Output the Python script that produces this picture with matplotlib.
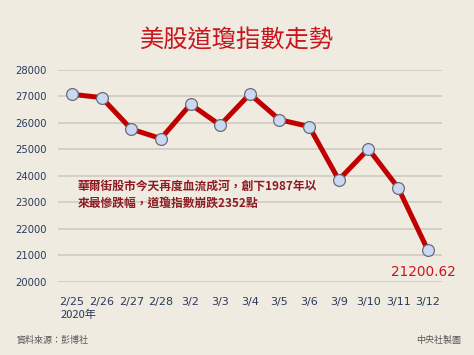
import matplotlib
matplotlib.use("Agg")
import matplotlib.pyplot as plt

plt.rcParams['font.family'] = ['Noto Sans CJK TC', 'DejaVu Sans']

dates = ["2/25", "2/26", "2/27", "2/28", "3/2", "3/3", "3/4", "3/5",
         "3/6", "3/9", "3/10", "3/11", "3/12"]
closes = [27081.36, 26957.59, 25766.64, 25409.36, 26703.32, 25917.41,
          27090.86, 26121.28, 25864.78, 23851.02, 25018.16, 23553.22, 21200.62]
yticks = [20000, 21000, 22000, 23000, 24000, 25000, 26000, 27000, 28000]

bg = "#efebe1"
fig = plt.figure(figsize=(4.74, 3.55), dpi=100, facecolor=bg)
ax = fig.add_axes([0.1224, 0.2065, 0.8094, 0.5963])
ax.set_facecolor(bg)

x = list(range(len(dates)))
ax.plot(x, closes, color="#c00000", lw=3.6, zorder=3, solid_joinstyle="round")
ax.plot(x, closes, ls="none", marker="o", ms=8.5, mfc="#c9d9f2", mec="#6d6a78",
        mew=0.9, zorder=4, clip_on=False)

ax.set_xlim(-0.47, 12.47)
ax.set_ylim(20000, 28000)
ax.set_yticks(yticks)
ax.set_yticklabels([str(v) for v in yticks])
ax.set_xticks(x)
ax.set_xticklabels(dates)
ax.yaxis.grid(True, color="#cfcbc0", lw=1.2)
ax.set_axisbelow(True)
for s in ax.spines.values():
    s.set_visible(False)
ax.tick_params(length=0, colors="#2b3a5c")
ax.tick_params(axis="y", pad=8, labelsize=7.2)
ax.tick_params(axis="x", pad=11, labelsize=8)
for lab in ax.get_xticklabels() + ax.get_yticklabels():
    lab.set_family("DejaVu Sans")

fig.text(0.5, 0.887, "美股道瓊指數走勢", ha="center", va="center",
         fontsize=17.5, color="#c8161e")
ax.text(0.2, 23870, "華爾街股市今天再度血流成河，創下1987年以\n來最慘跌幅，道瓊指數崩跌2352點",
        ha="left", va="top", fontsize=8.5, fontweight="bold", color="#8e1b22",
        linespacing=1.45)
fig.text(0.962, 0.234, "21200.62", ha="right", va="center", fontsize=9.8,
         color="#c8161e", family="DejaVu Sans")
fig.text(0.127, 0.112, "2020年", ha="left", va="center", fontsize=8,
         color="#2b3a5c")
fig.text(0.035, 0.042, "資料來源：彭博社", ha="left", va="center", fontsize=6.5,
         color="#555555")
fig.text(0.972, 0.042, "中央社製圖", ha="right", va="center", fontsize=6.5,
         color="#555555")

fig.savefig("out.png", dpi=100, facecolor=bg)
